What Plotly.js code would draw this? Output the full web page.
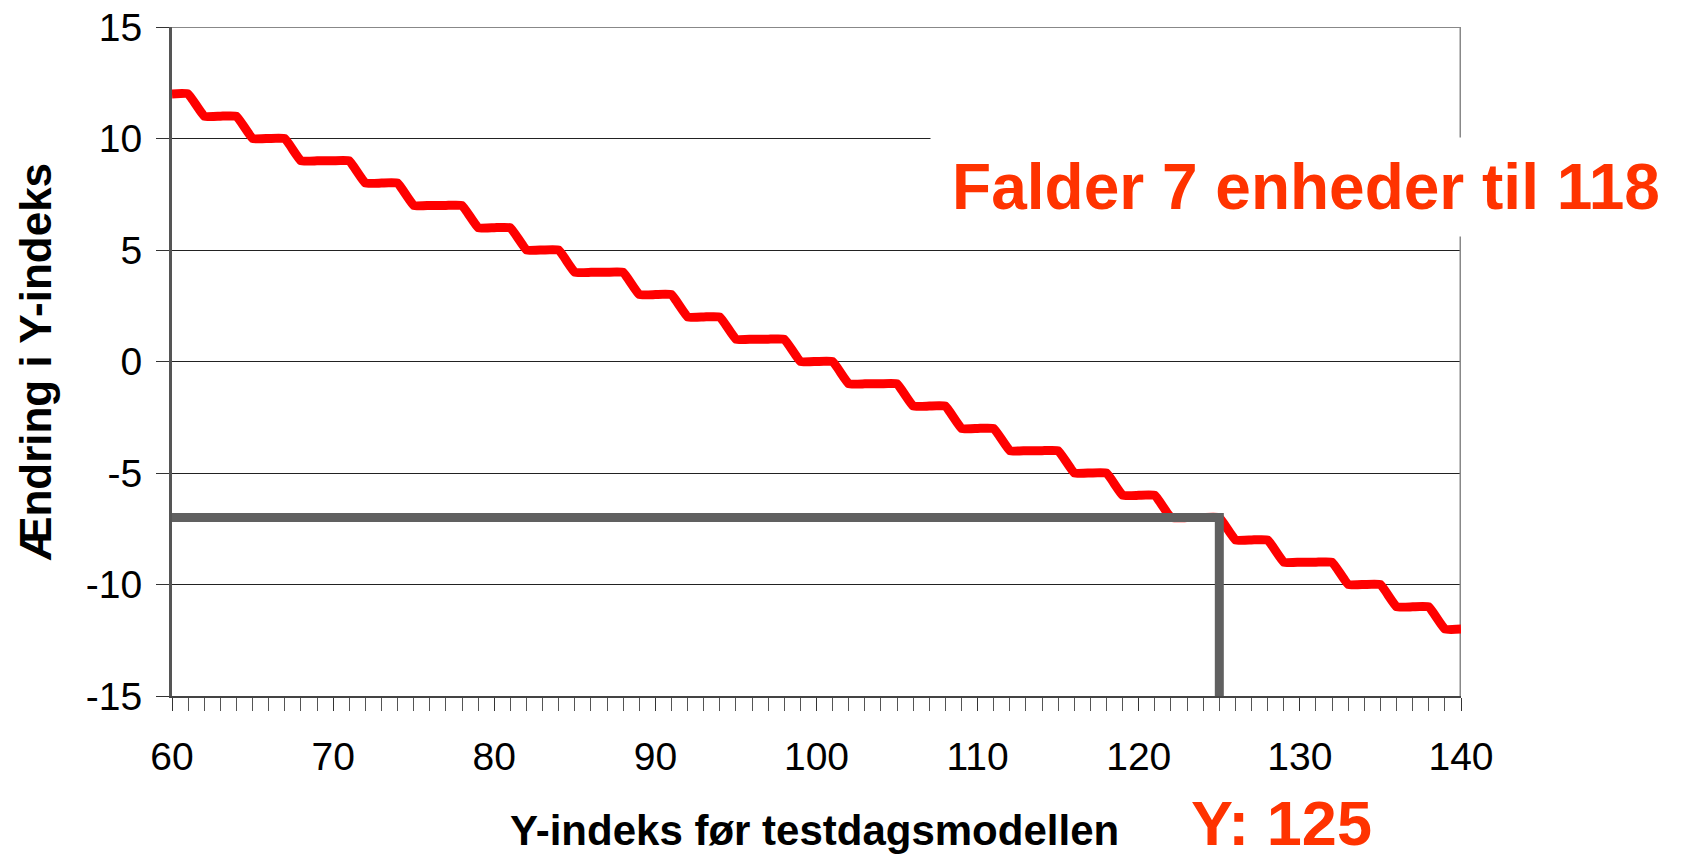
<!DOCTYPE html>
<html>
<head>
<meta charset="utf-8">
<script src="https://cdn.plot.ly/plotly-3.0.1.min.js"></script>
<style>html,body{margin:0;padding:0;background:#fff;}#chart{width:1685px;height:858px;}</style>
</head>
<body>
<div id="chart"></div>
<script>
// Y-index before the test-day model (x) and change in Y-index (y)
const yIndex = [60,61,62,63,64,65,66,67,68,69,70,71,72,73,74,75,76,77,78,79,80,
  81,82,83,84,85,86,87,88,89,90,91,92,93,94,95,96,97,98,99,100,
  101,102,103,104,105,106,107,108,109,110,111,112,113,114,115,116,117,118,119,120,
  121,122,123,124,125,126,127,128,129,130,131,132,133,134,135,136,137,138,139,140];
const change = [12,12,11,11,11,10,10,10,9,9,9,9,8,8,8,7,7,7,7,6,6,
  6,5,5,5,4,4,4,4,3,3,3,2,2,2,1,1,1,1,0,0,
  0,-1,-1,-1,-1,-2,-2,-2,-3,-3,-3,-4,-4,-4,-4,-5,-5,-5,-6,-6,
  -6,-7,-7,-7,-7,-8,-8,-8,-9,-9,-9,-9,-10,-10,-10,-11,-11,-11,-12,-12];
// Reading guide for Y = 125
const guideX = [60, 125, 125];
const guideY = [-7, -7, -15];
const xTickVals = [60,70,80,90,100,110,120,130,140];
const xTickText = ['60','70','80','90','100','110','120','130','140'];
const yTickVals = [-15,-10,-5,0,5,10,15];
const yTickText = ['-15','-10','-5','0','5','10','15'];

const traces = [
  {x: yIndex, y: change, mode: 'lines', line: {color: '#ff0000', width: 9, shape: 'spline', smoothing: 0.3}, hoverinfo: 'skip'},
  {x: guideX, y: guideY, mode: 'lines', line: {color: '#606060', width: 9}, hoverinfo: 'skip'}
];

const FONT = '"Liberation Sans", Arial, sans-serif';
const layout = {
  width: 1685, height: 858,
  margin: {l: 172, r: 224, t: 27, b: 162},
  paper_bgcolor: '#ffffff', plot_bgcolor: '#ffffff',
  showlegend: false,
  font: {family: FONT, color: '#000'},
  xaxis: {
    range: [60, 140], tickvals: xTickVals, ticktext: xTickText, ticks: 'outside', ticklen: 13, tickwidth: 1, tickcolor: '#333',
    minor: {dtick: 1, tick0: 60, ticks: 'outside', ticklen: 13, tickcolor: '#555', tickwidth: 1, showgrid: false},
    showgrid: false, zeroline: false, showline: true, linecolor: '#444', linewidth: 2,
    tickfont: {size: 39, family: FONT, color: '#000'}, ticklabelstandoff: 12
  },
  yaxis: {
    range: [-15, 15], tickvals: yTickVals, ticktext: yTickText, ticks: 'outside', ticklen: 13, tickwidth: 1, tickcolor: '#333',
    showgrid: true, gridcolor: '#222', gridwidth: 1, zeroline: false, showline: true, linecolor: '#555', linewidth: 3,
    tickfont: {size: 39, family: FONT, color: '#000'}, ticklabelstandoff: 6
  },
  shapes: [
    {type: 'line', xref: 'x', yref: 'y', x0: 60, x1: 140, y0: 15, y1: 15, line: {color: '#888', width: 2}, layer: 'between'},
    {type: 'line', xref: 'x', yref: 'y', x0: 140, x1: 140, y0: -15, y1: 15, line: {color: '#888', width: 3}, layer: 'between'}
  ],
  annotations: [
    {text: '<b>Falder 7 enheder til 118</b>', xref: 'paper', yref: 'paper', x: 0.8794, y: 0.7608,
     xanchor: 'center', yanchor: 'middle', showarrow: false, bgcolor: '#ffffff', borderpad: 0,
     width: 750, height: 98, font: {size: 64, color: '#ff3300', family: FONT}},
    {text: '<b>Y: 125</b>', xref: 'paper', yref: 'paper', x: 0.8611, y: -0.1898,
     xanchor: 'center', yanchor: 'middle', showarrow: false,
     font: {size: 63, color: '#ff3300', family: FONT}},
    {text: '<b>Y-indeks før testdagsmodellen</b>', xref: 'paper', yref: 'paper', x: 0.4988, y: -0.2003,
     xanchor: 'center', yanchor: 'middle', showarrow: false, font: {size: 42, color: '#000', family: FONT}},
    {text: '<b>Ændring i Y-indeks</b>', xref: 'paper', yref: 'paper', x: -0.1062, y: 0.5, textangle: -90,
     xanchor: 'center', yanchor: 'middle', showarrow: false, font: {size: 44, color: '#000', family: FONT}}
  ]
};

Plotly.newPlot('chart', traces, layout, {displayModeBar: false, staticPlot: true});
</script>
</body>
</html>
